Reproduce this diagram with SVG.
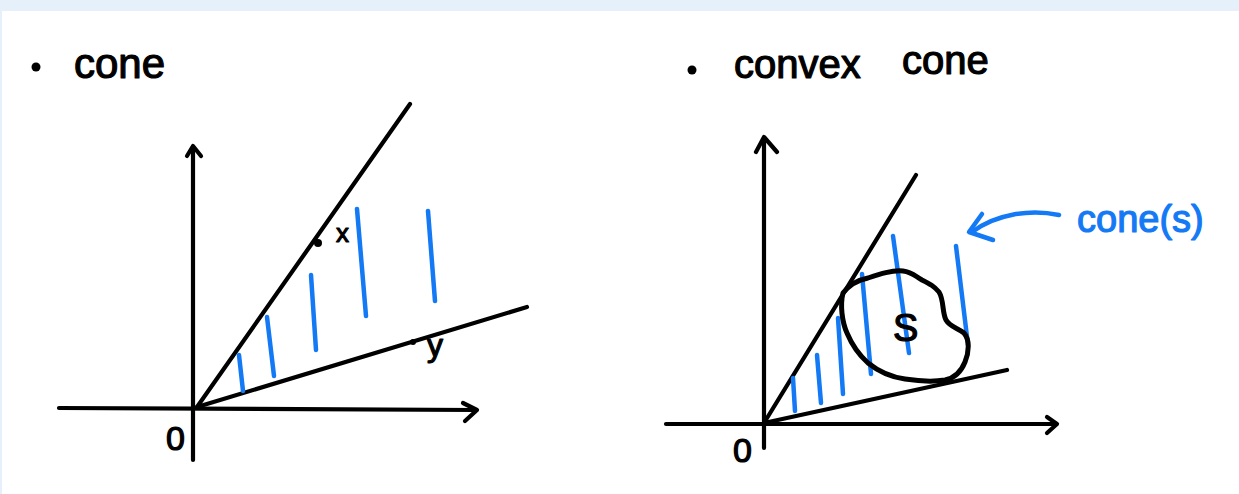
<svg xmlns="http://www.w3.org/2000/svg" width="1239" height="494" viewBox="0 0 1239 494">
<style>
.ink{fill:none;stroke:#000;stroke-width:4.2;stroke-linecap:round;stroke-linejoin:round}
.blob{fill:none;stroke:#000;stroke-width:5;stroke-linecap:round;stroke-linejoin:round}
.blue{fill:none;stroke:#1479F5;stroke-width:4.5;stroke-linecap:round;stroke-linejoin:round}
.t{font-family:"Liberation Sans","DejaVu Sans",sans-serif;fill:#000;stroke:#000;stroke-width:1.2;stroke-linejoin:round}
.tb{font-family:"Liberation Sans","DejaVu Sans",sans-serif;fill:#1479F5;stroke:#1479F5;stroke-width:1.2;stroke-linejoin:round}
</style>
<rect x="0" y="0" width="1239" height="494" fill="#E6F0FA"/>
<rect x="2" y="11" width="1237" height="483" fill="#FFFFFF"/>

<g id="title-left">
<circle cx="36" cy="67" r="4.5" fill="#000"/>
<text class="t" x="74" y="78" font-size="42">cone</text>
</g>
<g id="title-right">
<circle cx="692" cy="70" r="4.5" fill="#000"/>
<text class="t" x="734" y="78" font-size="40">convex</text>
<text class="t" x="902" y="74" font-size="40">cone</text>
</g>

<g id="cone-plot">
<g id="axes-left">
<path class="ink" d="M193 460 L193 147"/>
<path class="ink" d="M187 156 L193 146 L201 156"/>
<path class="ink" d="M59 408 L476 410"/>
<path class="ink" d="M463 403 L477 410 L465 421"/>
</g>
<g id="rays-left">
<path class="ink" d="M197 407 L410 104"/>
<path class="ink" d="M197 407 L527 307"/>
</g>
<g id="hatch-left">
<path class="blue" d="M239 355 L243 391"/>
<path class="blue" d="M267 317 L274 376"/>
<path class="blue" d="M311 275 L316 350"/>
<path class="blue" d="M357 209 L366 316"/>
<path class="blue" d="M428 211 L435 301"/>
</g>
<g id="point-x">
<circle cx="318" cy="243" r="4" fill="#000"/>
<text class="t" x="336" y="242" font-size="26">x</text>
</g>
<g id="point-y">
<circle cx="413" cy="342" r="3" fill="#000"/>
<text class="t" x="427" y="356" font-size="32">y</text>
</g>
<text id="origin-left" class="t" x="166" y="450" font-size="34">0</text>
</g>

<g id="convex-cone-plot">
<g id="axes-right">
<path class="ink" d="M764 448 L764 138"/>
<path class="ink" d="M756 152 L764 137 L777 152"/>
<path class="ink" d="M666 424 L1056 424"/>
<path class="ink" d="M1047 417 L1057 424 L1047 433"/>
</g>
<g id="rays-right">
<path class="ink" d="M764 423 L916 175"/>
<path class="ink" d="M764 423 L1007 370"/>
</g>
<g id="hatch-right">
<path class="blue" d="M793 378 L795 411"/>
<path class="blue" d="M817 355 L821 403"/>
<path class="blue" d="M838 318 L843 394"/>
<path class="blue" d="M862 274 L871 374"/>
<path class="blue" d="M893 236 L909 353"/>
<path class="blue" d="M956 246 L968 345"/>
</g>
<g id="set-S">
<path class="blob" d="M843 293 C850 284 858 280 868 278 C880 274 892 270 903 271 C912 272 915 276 922 280 C930 284 934 286 939 292 C944 300 942 312 946 320 C950 327 958 328 964 333 C970 340 969 352 965 362 C961 372 955 378 945 380 C933 382 918 381 905 379 C890 377 878 371 868 363 C858 354 852 345 847 333 C842 322 840 305 843 293 Z"/>
<text class="t" x="893" y="341" font-size="38">S</text>
</g>
<text id="origin-right" class="t" x="733" y="462" font-size="34">0</text>
<g id="label-cone-s">
<path class="blue" d="M1059 215 C1030 209 996 214 972 232"/>
<path class="blue" d="M982 214 L969 232 L993 240"/>
<text class="tb" x="1077" y="232" font-size="38">cone(s)</text>
</g>
</g>
</svg>
